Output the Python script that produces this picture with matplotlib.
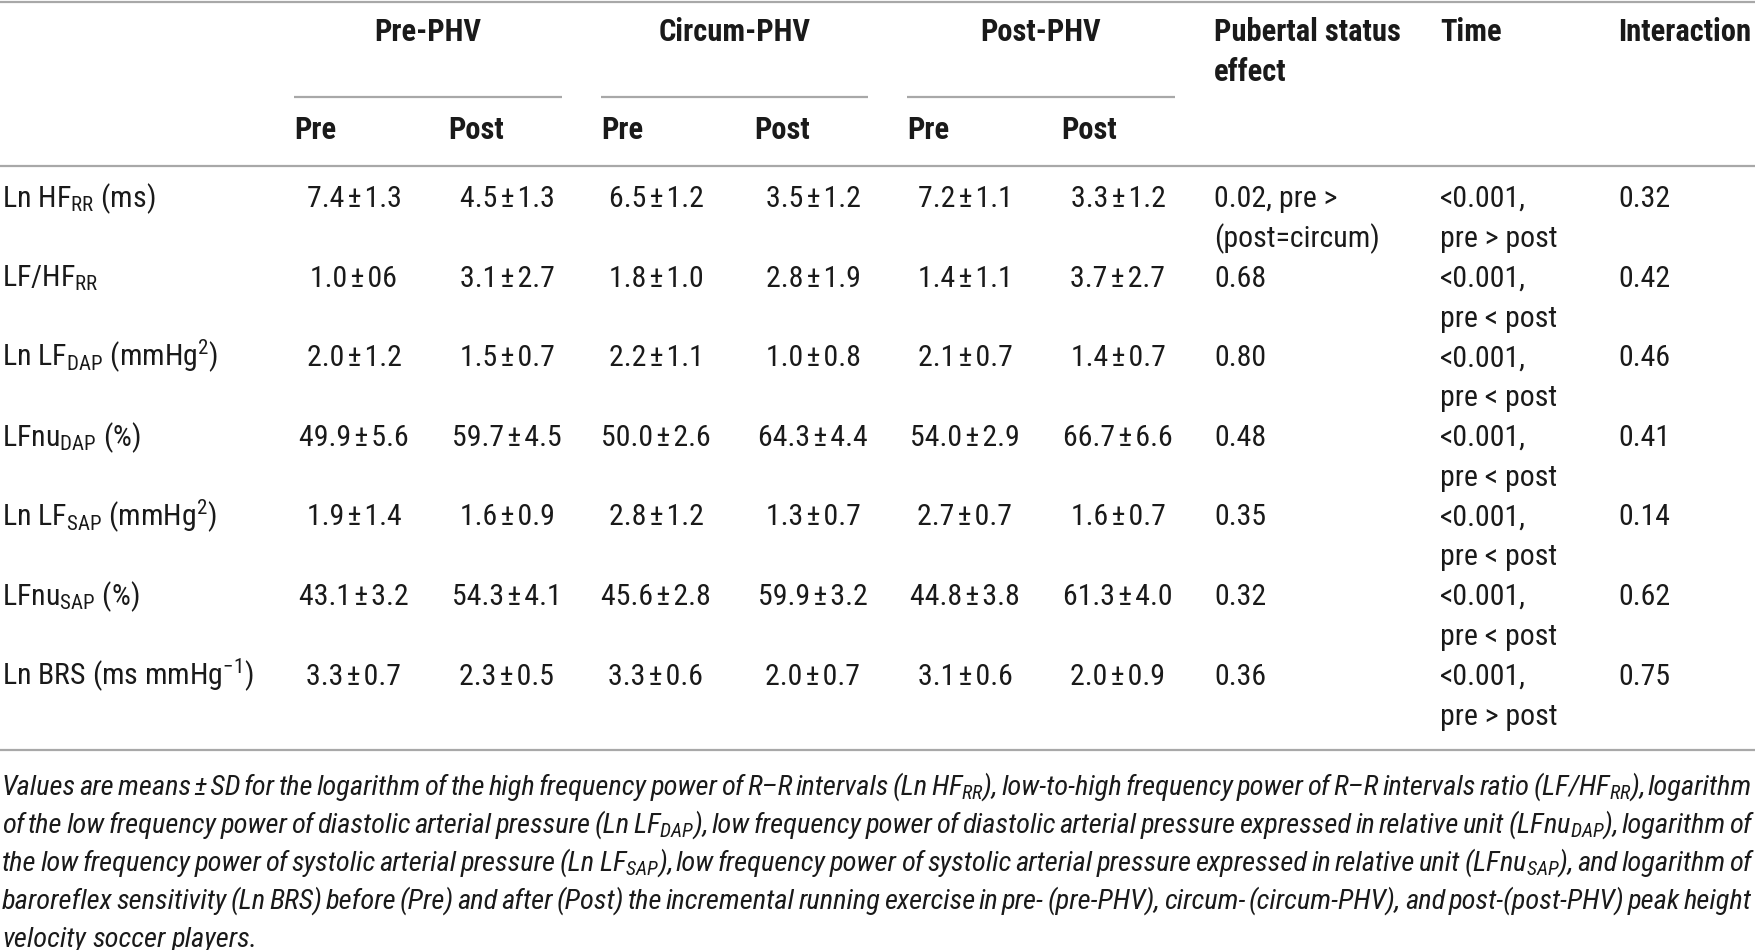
import matplotlib
matplotlib.use("Agg")
import matplotlib.pyplot as plt
from matplotlib import font_manager as fm

# ---------------- data ----------------
row_labels = [
    r"Ln HF$_{\mathrm{RR}}$ (ms)",
    r"LF/HF$_{\mathrm{RR}}$",
    r"Ln LF$_{\mathrm{DAP}}$ (mmHg$^{\mathrm{2}}$)",
    r"LFnu$_{\mathrm{DAP}}$ (%)",
    r"Ln LF$_{\mathrm{SAP}}$ (mmHg$^{\mathrm{2}}$)",
    r"LFnu$_{\mathrm{SAP}}$ (%)",
    r"Ln BRS (ms mmHg$^{\mathrm{-1}}$)",
]
groups = ["Pre-PHV", "Circum-PHV", "Post-PHV"]
subheads = ["Pre", "Post"]
pre_phv_pre = ["7.4 ± 1.3", "1.0 ± 06", "2.0 ± 1.2", "49.9 ± 5.6", "1.9 ± 1.4", "43.1 ± 3.2", "3.3 ± 0.7"]
pre_phv_post = ["4.5 ± 1.3", "3.1 ± 2.7", "1.5 ± 0.7", "59.7 ± 4.5", "1.6 ± 0.9", "54.3 ± 4.1", "2.3 ± 0.5"]
circum_pre = ["6.5 ± 1.2", "1.8 ± 1.0", "2.2 ± 1.1", "50.0 ± 2.6", "2.8 ± 1.2", "45.6 ± 2.8", "3.3 ± 0.6"]
circum_post = ["3.5 ± 1.2", "2.8 ± 1.9", "1.0 ± 0.8", "64.3 ± 4.4", "1.3 ± 0.7", "59.9 ± 3.2", "2.0 ± 0.7"]
post_phv_pre = ["7.2 ± 1.1", "1.4 ± 1.1", "2.1 ± 0.7", "54.0 ± 2.9", "2.7 ± 0.7", "44.8 ± 3.8", "3.1 ± 0.6"]
post_phv_post = ["3.3 ± 1.2", "3.7 ± 2.7", "1.4 ± 0.7", "66.7 ± 6.6", "1.6 ± 0.7", "61.3 ± 4.0", "2.0 ± 0.9"]
pubertal = ["0.02, pre >\n(post = circum)", "0.68", "0.80", "0.48", "0.35", "0.32", "0.36"]
time_eff = ["<0.001,\npre > post", "<0.001,\npre < post", "<0.001,\npre < post",
            "<0.001,\npre < post", "<0.001,\npre < post", "<0.001,\npre < post",
            "<0.001,\npre > post"]
interaction = ["0.32", "0.42", "0.46", "0.41", "0.14", "0.62", "0.75"]
right_heads = ["Pubertal status\neffect", "Time", "Interaction"]
caption_lines = [
    r"Values are means ± SD for the logarithm of the high frequency power of R–R intervals (Ln HF$_{RR}$), low-to-high frequency power of R–R intervals ratio (LF/HF$_{RR}$), logarithm",
    r"of the low frequency power of diastolic arterial pressure (Ln LF$_{DAP}$), low frequency power of diastolic arterial pressure expressed in relative unit (LFnu$_{DAP}$), logarithm of",
    r"the low frequency power of systolic arterial pressure (Ln LF$_{SAP}$), low frequency power of systolic arterial pressure expressed in relative unit (LFnu$_{SAP}$), and logarithm of",
    r"baroreflex sensitivity (Ln BRS) before (Pre) and after (Post) the incremental running exercise in pre- (pre-PHV), circum- (circum-PHV), and post-(post-PHV) peak height",
    r"velocity soccer players.",
]

# ---------------- font ----------------
names = {f.name for f in fm.fontManager.ttflist}
FONT = "DejaVu Sans"
for cand in ["Roboto Condensed", "Liberation Sans Narrow", "Open Sans Condensed", "Liberation Sans"]:
    if cand in names:
        FONT = cand
        break
plt.rcParams["font.family"] = [FONT, "DejaVu Sans"]
plt.rcParams["mathtext.fontset"] = "custom"
plt.rcParams["mathtext.rm"] = FONT
plt.rcParams["mathtext.it"] = FONT + ":italic"
plt.rcParams["mathtext.bf"] = FONT + ":bold"

# ---------------- layout (pixels) ----------------
W, H = 1755, 950
fig = plt.figure(figsize=(W / 100, H / 100), dpi=100)
ax = fig.add_axes([0, 0, 1, 1])
ax.set_xlim(0, W)
ax.set_ylim(H, 0)
ax.axis("off")

TXT = "#1a1a1a"
LINE = "#a8a8a8"
FS = 21.5
FS_B = 22
FS_CAP = 20.5
LH = 40  # line height inside cells
HAIR = "\u200a"


def pm(s):
    return s.replace(" ± ", HAIR + "±" + HAIR).replace(" = ", "=")


# rules
ax.plot([0, W], [1.5, 1.5], color=LINE, lw=1.6, solid_capstyle="butt")
ax.plot([0, W], [166, 166], color=LINE, lw=1.6, solid_capstyle="butt")
ax.plot([0, W], [750, 750], color=LINE, lw=1.6, solid_capstyle="butt")

group_spans = [(294, 562), (601, 868), (907, 1175)]
sub_x = [(294, 448), (601, 754), (907, 1061)]
for g, (x0, x1), (sx0, sx1) in zip(groups, group_spans, sub_x):
    ax.plot([x0, x1], [97, 97], color=LINE, lw=1.6, solid_capstyle="butt")
    ax.text((x0 + x1) / 2, 41, g, ha="center", va="baseline", fontsize=FS_B,
            fontweight="bold", color=TXT)
    ax.text(sx0, 139, subheads[0], ha="left", va="baseline", fontsize=FS_B,
            fontweight="bold", color=TXT)
    ax.text(sx1, 139, subheads[1], ha="left", va="baseline", fontsize=FS_B,
            fontweight="bold", color=TXT)

right_x = [1214, 1440, 1618]
for hx, htxt in zip(right_x, right_heads):
    for k, ln in enumerate(htxt.split("\n")):
        ax.text(hx, 41 + k * LH, ln, ha="left", va="baseline", fontsize=FS_B,
                fontweight="bold", color=TXT)

row_y0 = 207
row_step = 79.6
value_cols = [pre_phv_pre, pre_phv_post, circum_pre, circum_post, post_phv_pre, post_phv_post]
value_cx = [354, 507, 656, 813, 965, 1118]

for i, lab in enumerate(row_labels):
    y = row_y0 + i * row_step
    ax.text(2, y, lab, ha="left", va="baseline", fontsize=FS, color=TXT)
    for col, cx in zip(value_cols, value_cx):
        ax.text(cx, y, pm(col[i]), ha="center", va="baseline", fontsize=FS, color=TXT)
    for col, hx in zip([pubertal, time_eff, interaction], right_x):
        for k, ln in enumerate(col[i].split("\n")):
            ax.text(hx, y + k * LH, pm(ln), ha="left", va="baseline", fontsize=FS, color=TXT)

# caption, justified word by word
renderer = fig.canvas.get_renderer()
cap_x0, cap_x1 = 2, 1752
cap_y0 = 795
cap_step = 38
for li, line in enumerate(caption_lines):
    y = cap_y0 + li * cap_step
    words = pm(line).split(" ")
    arts = [ax.text(0, y, w, ha="left", va="baseline", fontsize=FS_CAP,
                    fontstyle="italic", color=TXT) for w in words]
    widths = [a.get_window_extent(renderer).width for a in arts]
    if li < len(caption_lines) - 1 and len(words) > 1:
        gap = (cap_x1 - cap_x0 - sum(widths)) / (len(words) - 1)
    else:
        gap = FS_CAP * 100 / 72 * 0.22
    x = cap_x0
    for a, w in zip(arts, widths):
        a.set_x(x)
        x += w + gap

fig.savefig("out.png", dpi=100, facecolor="white")
